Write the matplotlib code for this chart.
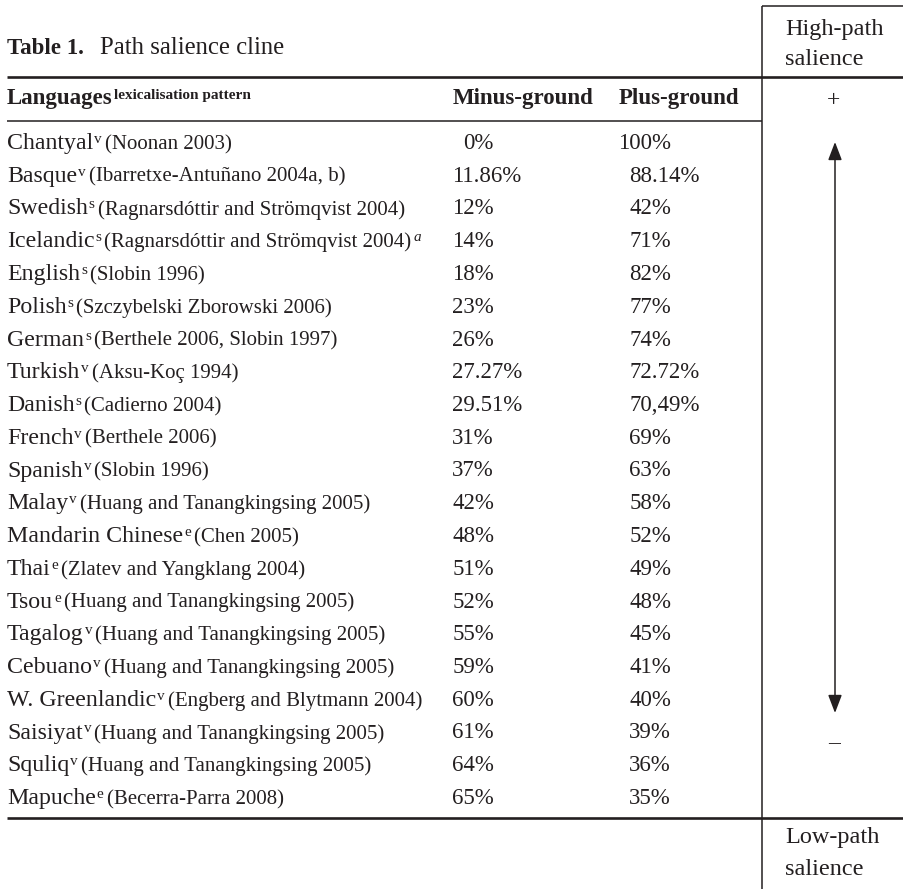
import matplotlib
matplotlib.use('Agg')
import matplotlib.pyplot as plt

INK = '#231f20'
SERIF = 'Liberation Serif'

languages = ['Chantyal', 'Basque', 'Swedish', 'Icelandic', 'English', 'Polish',
             'German', 'Turkish', 'Danish', 'French', 'Spanish', 'Malay',
             'Mandarin Chinese', 'Thai', 'Tsou', 'Tagalog', 'Cebuano',
             'W. Greenlandic', 'Saisiyat', 'Squliq', 'Mapuche']
patterns = ['v', 'v', 's', 's', 's', 's', 's', 'v', 's', 'v', 'v', 'v',
            'e', 'e', 'e', 'v', 'v', 'v', 'v', 'v', 'e']
citations = ['(Noonan 2003)', '(Ibarretxe-Antuñano 2004a, b)',
             '(Ragnarsdóttir and Strömqvist 2004)',
             '(Ragnarsdóttir and Strömqvist 2004)', '(Slobin 1996)',
             '(Szczybelski Zborowski 2006)', '(Berthele 2006, Slobin 1997)',
             '(Aksu-Koç 1994)', '(Cadierno 2004)', '(Berthele 2006)',
             '(Slobin 1996)', '(Huang and Tanangkingsing 2005)', '(Chen 2005)',
             '(Zlatev and Yangklang 2004)', '(Huang and Tanangkingsing 2005)',
             '(Huang and Tanangkingsing 2005)', '(Huang and Tanangkingsing 2005)',
             '(Engberg and Blytmann 2004)', '(Huang and Tanangkingsing 2005)',
             '(Huang and Tanangkingsing 2005)', '(Becerra-Parra 2008)']
notes = ['', '', '', 'a'] + [''] * 17
minus_ground = ['0%', '11.86%', '12%', '14%', '18%', '23%', '26%', '27.27%',
                '29.51%', '31%', '37%', '42%', '48%', '51%', '52%', '55%',
                '59%', '60%', '61%', '64%', '65%']
plus_ground = ['100%', '88.14%', '42%', '71%', '82%', '77%', '74%', '72.72%',
               '70,49%', '69%', '63%', '58%', '52%', '49%', '48%', '45%',
               '41%', '40%', '39%', '36%', '35%']


def main():
    fig = plt.figure(figsize=(9.04, 8.89), dpi=100)
    ax = fig.add_axes([0, 0, 1, 1])
    ax.set_xlim(0, 904)
    ax.set_ylim(889, 0)
    ax.axis('off')
    renderer = fig.canvas.get_renderer()

    def put(x, y, s, size=16.5, weight='normal', style='normal', ha='left'):
        t = ax.text(x, y, s, ha=ha, va='baseline', color=INK, family=SERIF,
                    fontsize=size, fontweight=weight, fontstyle=style)
        return x + t.get_window_extent(renderer).width

    # rules
    ax.hlines(77, 7, 904, color=INK, lw=1.9)
    ax.hlines(121, 7, 762, color=INK, lw=1.1)
    ax.hlines(818, 7, 904, color=INK, lw=1.9)
    ax.hlines(6, 762, 904, color=INK, lw=1.1)
    ax.vlines(762, 6, 889, color=INK, lw=1.1)

    # title and header
    x = put(7, 54, 'Table 1.', size=16.5, weight='bold')
    put(x + 16, 54, 'Path salience cline', size=17.8)
    x = put(7, 104, 'Languages', size=16.5, weight='bold')
    put(x + 1, 99, 'lexicalisation pattern', size=11, weight='bold')
    put(453, 104, 'Minus-ground', size=16.5, weight='bold')
    put(619, 104, 'Plus-ground', size=16.5, weight='bold')

    put(785, 35, 'High-path', size=17.5)
    put(785, 65, 'salience', size=17.5)
    put(834, 106, '+', size=17, ha='center')
    put(834, 749, '–', size=17, ha='center')
    put(785, 843, 'Low-path', size=17.5)
    put(785, 875, 'salience', size=17.5)

    # rows
    digit_w = 16.5 * 100 / 72 * 0.5
    for i, lang in enumerate(languages):
        y = 149 + i * 32.75
        x = put(7, y, lang, size=17.2)
        x = put(x + 1, y - 6, patterns[i], size=11)
        x = put(x + 3, y, citations[i], size=15)
        if notes[i]:
            put(x + 2, y - 6, notes[i], size=11, style='italic')
        for anchor, val in ((475, minus_ground[i]), (652, plus_ground[i])):
            ndig = len(val.replace(',', '.').split('.')[0].rstrip('%'))
            put(anchor - ndig * digit_w, y, val)

    # salience arrow
    ax.annotate('', xy=(835, 142), xytext=(835, 713),
                arrowprops=dict(arrowstyle='<|-|>,head_length=1.1,head_width=0.42',
                                color=INK, lw=1.1, shrinkA=0, shrinkB=0,
                                mutation_scale=10))

    fig.savefig('out.png', dpi=100, facecolor='white')


if __name__ == '__main__':
    main()
